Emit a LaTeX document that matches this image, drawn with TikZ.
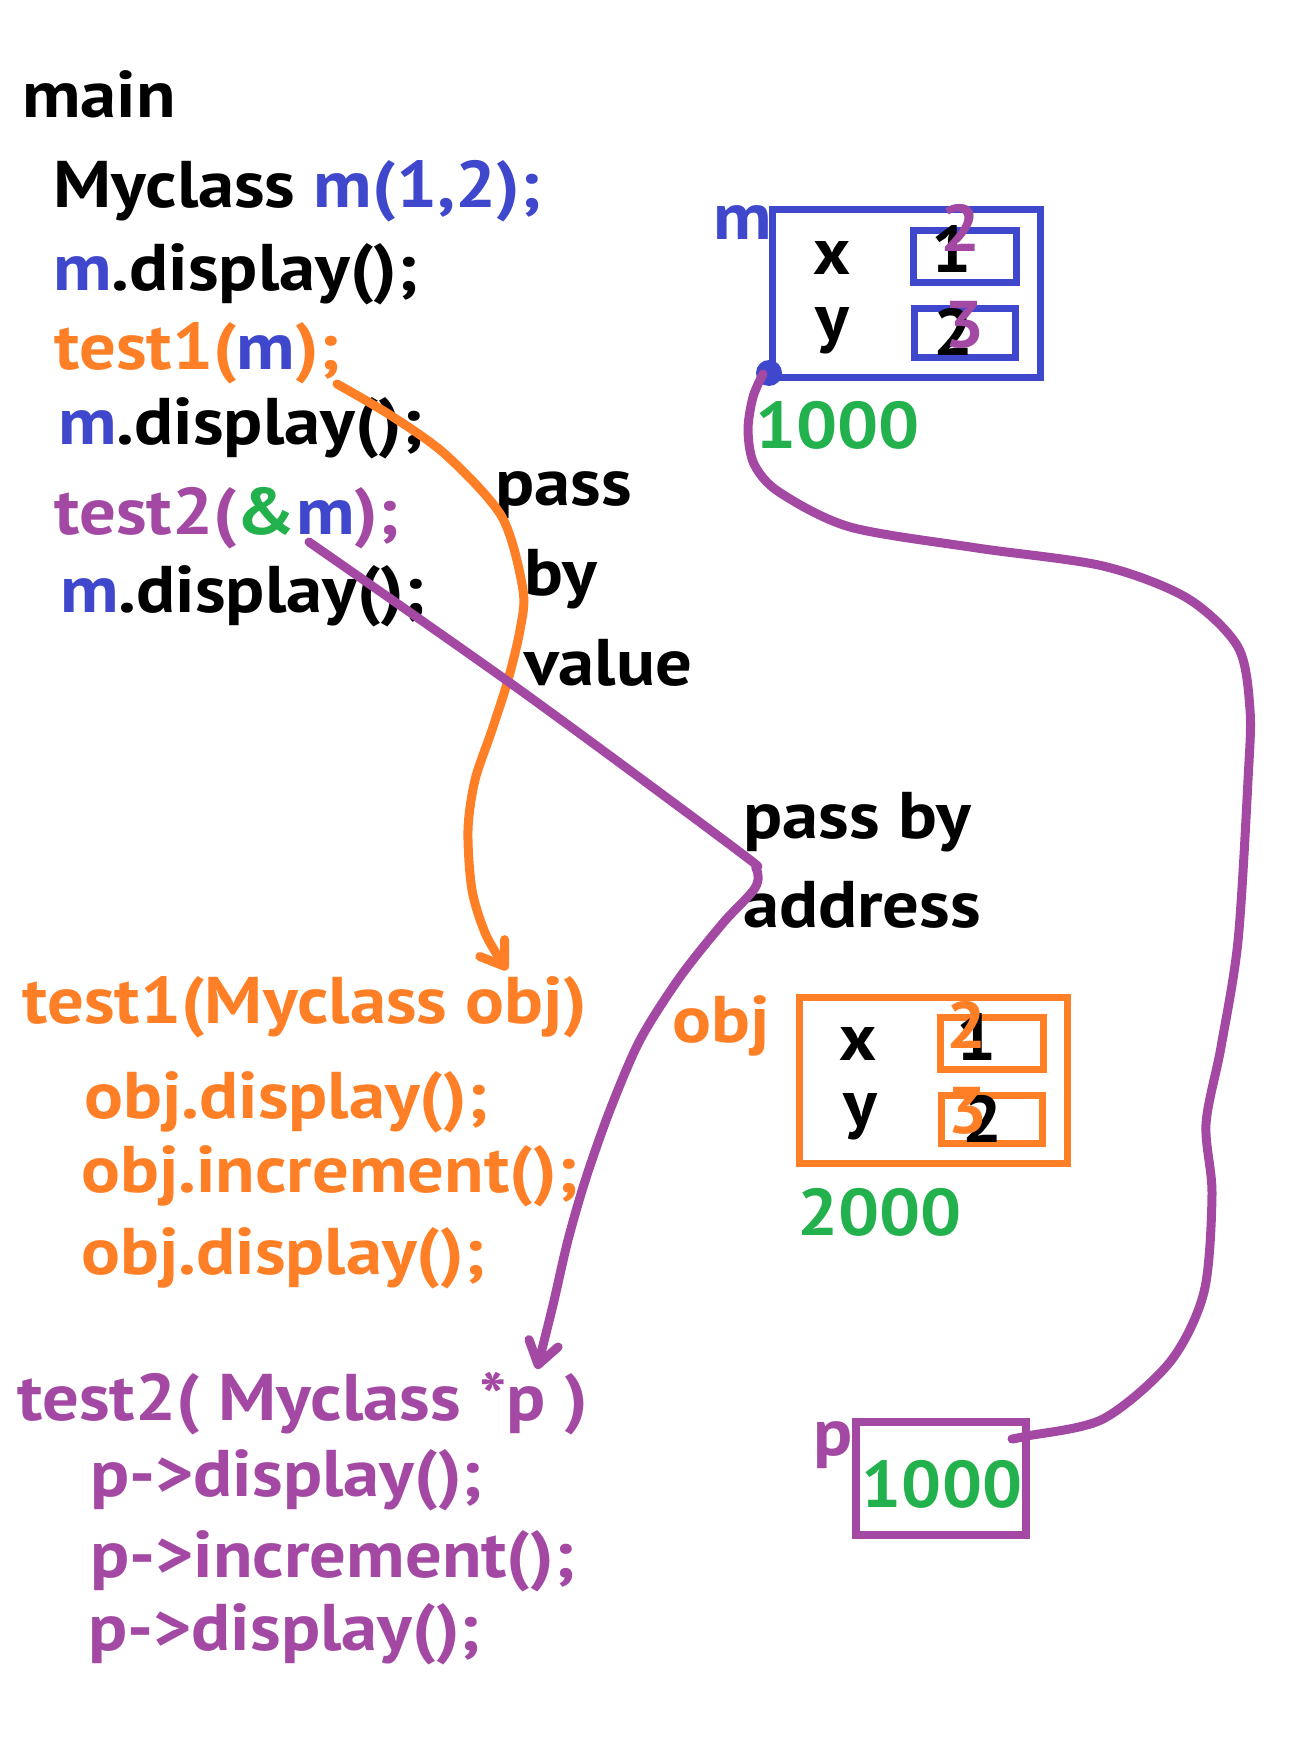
\documentclass[tikz,border=0pt]{standalone}
\usepackage{fontspec}
\newfontfamily\cf{PT Sans}
\usetikzlibrary{arrows.meta}
\definecolor{cblue}{HTML}{3F48CC}
\definecolor{corange}{HTML}{FF7F27}
\definecolor{cpurple}{HTML}{A349A4}
\definecolor{cgreen}{HTML}{22B14C}
\begin{document}
\begin{tikzpicture}[x=1pt,y=-1pt,
  txt/.style={anchor=base west, inner sep=0pt, xscale=1.10, font=\cf\bfseries\fontsize{66}{70}\selectfont},
  ctxt/.style={anchor=base, inner sep=0pt, xscale=1.07, font=\cf\bfseries\fontsize{66}{70}\selectfont},
  frame/.style={draw, line width=7pt, inner sep=0pt},
  conn/.style={line width=9pt, line cap=round, line join=round},
  barb/.style={-{Straight Barb[length=22pt,width=30pt,round]}}
]
\useasboundingbox[fill=white] (0,0) rectangle (1304,1760);

% ---------- main code ----------
\node[txt] (main) at (22,118) {main};
\node[txt] (decl) at (53,208) {Myclass \textcolor{cblue}{m(1,2);}};
\node[txt] (disp1) at (53,291) {\textcolor{cblue}{m}.display();};
\node[txt, text=corange] (call1) at (54,369) {test1(\textcolor{cblue}{m});};
\node[txt] (disp2) at (58,444) {\textcolor{cblue}{m}.display();};
\node[txt, text=cpurple] (call2) at (54,534) {test2(\textcolor{cgreen}{\&}\textcolor{cblue}{m});};
\node[txt] (disp3) at (60,612) {\textcolor{cblue}{m}.display();};

% ---------- labels ----------
\node[txt] (pass1) at (495,505) {pass};
\node[txt] (by1) at (524,595) {by};
\node[txt] (value1) at (524,685) {value};
\node[txt] (pass2) at (743,838) {pass by};
\node[txt] (addr) at (743,927) {address};

% ---------- test1 ----------
\node[txt, text=corange] (t1head) at (22,1023) {test1(Myclass obj)};
\node[txt, text=corange] (t1a) at (84,1118) {obj.display();};
\node[txt, text=corange] (t1b) at (81,1192) {obj.increment();};
\node[txt, text=corange] (t1c) at (81,1274) {obj.display();};

% ---------- test2 ----------
\node[txt, text=cpurple] (t2head) at (17,1420) {test2( Myclass *p )};
\node[txt, text=cpurple] (t2a) at (90,1496) {p->display();};
\node[txt, text=cpurple] (t2b) at (90,1577) {p->increment();};
\node[txt, text=cpurple] (t2c) at (88,1650) {p->display();};

% ---------- object m ----------
\node[frame, draw=cblue, minimum width=268pt, minimum height=167pt] (mbox) at (906,293.5) {};
\node[frame, draw=cblue, minimum width=103pt, minimum height=52pt] (mxbox) at (964.5,257) {};
\node[frame, draw=cblue, minimum width=101pt, minimum height=48pt] (mybox) at (964.5,333) {};
\node[txt, text=cblue] (mlabel) at (713,240) {m};
\node[ctxt] (mx) at (832,275) {x};
\node[ctxt] (my) at (832,341) {y};
\node[ctxt] (mx1) at (952,273) {1};
\node[ctxt] (my2) at (954,355) {2};
\node[ctxt, text=cpurple] (mx2) at (961,252) {2};
\node[ctxt, text=cpurple] (my3) at (965,347) {3};
\node[txt, text=cgreen] (maddr) at (755,448) {1000};
\node[circle, fill=cblue, minimum size=26pt, inner sep=0pt] (mdot) at (769,373) {};

% ---------- object obj ----------
\node[frame, draw=corange, minimum width=268pt, minimum height=166pt] (objbox) at (933,1080) {};
\node[frame, draw=corange, minimum width=103pt, minimum height=52pt] (objxbox) at (991.5,1043) {};
\node[frame, draw=corange, minimum width=101pt, minimum height=48pt] (objybox) at (991.5,1119) {};
\node[txt, text=corange] (objlabel) at (672,1042) {obj};
\node[ctxt] (ox) at (858,1060) {x};
\node[ctxt] (oy) at (860,1126) {y};
\node[ctxt] (ox1) at (977,1060) {1};
\node[ctxt] (oy2) at (983,1142) {2};
\node[ctxt, text=corange] (ox2) at (967,1048) {2};
\node[ctxt, text=corange] (oy3) at (968,1133) {3};
\node[txt, text=cgreen] (objaddr) at (797,1235) {2000};

% ---------- pointer p ----------
\node[frame, draw=cpurple, line width=8pt, minimum width=170pt, minimum height=113pt] (pbox) at (941,1478.5) {};
\node[ctxt, text=cgreen] (pval) at (942,1507) {1000};
\node[txt, text=cpurple] (plabel) at (813,1455) {p};

% ---------- connectors ----------
\coordinate (c1s) at (337,384);
\coordinate (c1e) at (507,970);
\draw[conn, draw=corange, barb] plot[smooth, tension=0.5] coordinates {(c1s) (390,415) (446,455) (502,517) (523,590) (520,630) (508,680) (492,730) (475,780) (468,830) (472,890) (486,935) (c1e)};

\coordinate (c2s) at (309,542);
\coordinate (c2e) at (537,1369);
\draw[conn, draw=cpurple, barb] plot[smooth, tension=0.5] coordinates {(c2s) (520,690) (737,850) (756,868) (755,888) (723,923) (680,977) (640,1040) (610,1110) (586,1178) (568,1240) (553,1305) (c2e)};

\coordinate (c3s) at (763,374);
\coordinate (c3e) at (1012,1439);
\draw[conn, draw=cpurple] plot[smooth, tension=0.5] coordinates {(c3s) (753,397) (748,430) (754,464) (779,492) (850,527) (977,548) (1103,566) (1187,598) (1238,647) (1250,710) (1248,780) (1238,941) (1221,1047) (1206,1124) (1212,1194) (1204,1292) (1170,1362) (1103,1419) (1027,1436) (c3e)};
\end{tikzpicture}
\end{document}
